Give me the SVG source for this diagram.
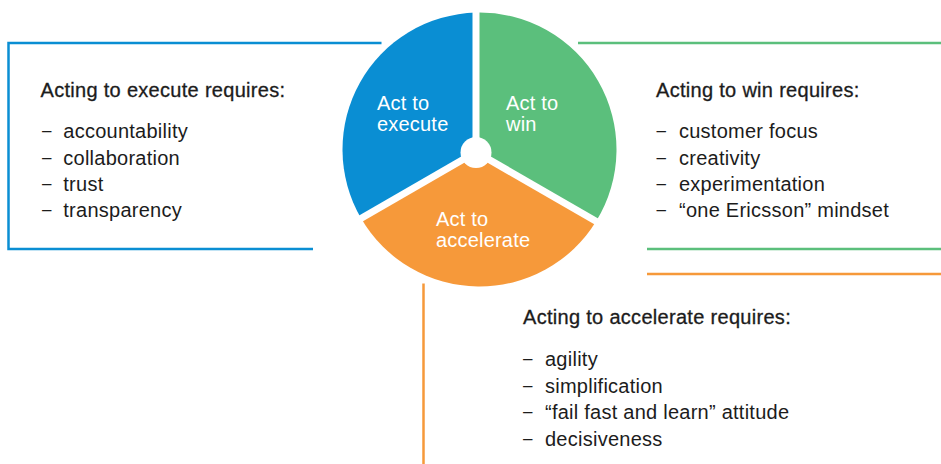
<svg xmlns="http://www.w3.org/2000/svg" width="941" height="464" viewBox="0 0 941 464">
<style>
.t{font-family:"Liberation Sans",Arial,sans-serif;fill:#1c1c1c;font-size:20px;letter-spacing:0.25px}
.h{stroke:#1c1c1c;stroke-width:0.3px;letter-spacing:0.3px}
.d{font-size:17px;letter-spacing:0}
.p{font-family:"Liberation Sans",Arial,sans-serif;fill:#ffffff;font-size:20px;letter-spacing:0.2px}
.ln{fill:none;stroke-width:2.5}
.sep{stroke:#ffffff;stroke-width:7;stroke-linecap:butt}
</style>
<rect width="941" height="464" fill="#ffffff"/>
<g id="connectors">
<polyline class="ln" stroke="#0a8ed3" points="381.5,43 8.5,43 8.5,249 313,249"/>
<line class="ln" stroke="#5bbf7c" x1="578" y1="43" x2="941" y2="43"/>
<line class="ln" stroke="#5bbf7c" x1="647" y1="249" x2="941" y2="249"/>
<line class="ln" stroke="#f6993a" x1="647" y1="274" x2="941" y2="274"/>
<line class="ln" stroke="#f6993a" x1="423.5" y1="283.5" x2="423.5" y2="464"/>
</g>
<g id="slice-execute">
<path fill="#0a8ed3" d="M476,152 L476,12.54 A137,137 0 0,0 361.07,218.36 Z"/>
<text class="p" x="377" y="110">Act to</text>
<text class="p" x="377" y="131">execute</text>
</g>
<g id="slice-win">
<path fill="#5bbf7c" d="M476,152 L476,12.54 A137,137 0 0,1 596.14,221.36 Z"/>
<text class="p" x="506" y="110">Act to</text>
<text class="p" x="506" y="131">win</text>
</g>
<g id="slice-accelerate">
<path fill="#f6993a" d="M476,152 L596.14,221.36 A137,137 0 0,1 361.07,218.36 Z"/>
<text class="p" x="436" y="226">Act to</text>
<text class="p" x="436" y="247">accelerate</text>
</g>
<g id="hub">
<line class="sep" x1="476" y1="152" x2="476" y2="8"/>
<line class="sep" x1="476" y1="152" x2="350" y2="224.7"/>
<line class="sep" x1="476" y1="152" x2="606" y2="227"/>
<circle cx="476" cy="152.5" r="15.5" fill="#ffffff"/>
</g>
<g id="box-execute">
<text class="t h" x="40.5" y="96.7">Acting to execute requires:</text>
<text class="t d" x="42" y="136.3">–</text><text class="t" x="63.3" y="138.3">accountability</text>
<text class="t d" x="42" y="162.5">–</text><text class="t" x="63.3" y="164.5">collaboration</text>
<text class="t d" x="42" y="188.7">–</text><text class="t" x="63.3" y="190.7">trust</text>
<text class="t d" x="42" y="215">–</text><text class="t" x="63.3" y="217">transparency</text>
</g>
<g id="box-win">
<text class="t h" x="656" y="96.7">Acting to win requires:</text>
<text class="t d" x="656.5" y="136.3">–</text><text class="t" x="679" y="138.3">customer focus</text>
<text class="t d" x="656.5" y="162.5">–</text><text class="t" x="679" y="164.5">creativity</text>
<text class="t d" x="656.5" y="188.7">–</text><text class="t" x="679" y="190.7">experimentation</text>
<text class="t d" x="656.5" y="215">–</text><text class="t" x="679" y="217">“one Ericsson” mindset</text>
</g>
<g id="box-accelerate">
<text class="t h" x="523" y="324">Acting to accelerate requires:</text>
<text class="t d" x="523" y="363.7">–</text><text class="t" x="545" y="365.7">agility</text>
<text class="t d" x="523" y="390.5">–</text><text class="t" x="545" y="392.5">simplification</text>
<text class="t d" x="523" y="417">–</text><text class="t" x="545" y="419">“fail fast and learn” attitude</text>
<text class="t d" x="523" y="443.7">–</text><text class="t" x="545" y="445.7">decisiveness</text>
</g>
</svg>
